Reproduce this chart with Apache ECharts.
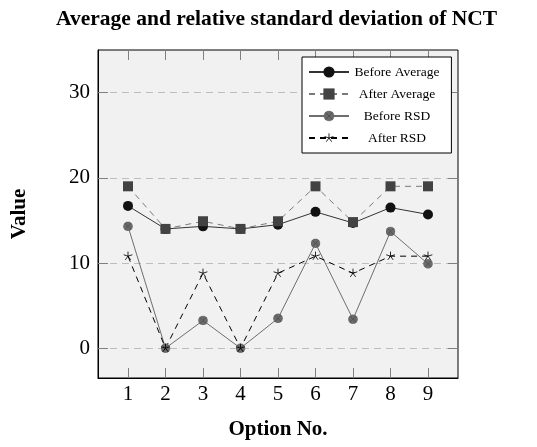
<!DOCTYPE html>
<html>
<head>
<meta charset="utf-8">
<script src="https://cdn.jsdelivr.net/npm/echarts@6/dist/echarts.min.js"></script>
<style>html,body{margin:0;padding:0;background:#fff;}#c{width:537px;height:447px;}</style>
</head>
<body>
<div id="c"></div>
<script>
const categories = [1, 2, 3, 4, 5, 6, 7, 8, 9];
const beforeAvg = [16.7, 14.0, 14.3, 14.0, 14.5, 16.0, 14.7, 16.5, 15.7];
const afterAvg = [19.0, 14.0, 14.9, 14.0, 14.9, 19.0, 14.8, 19.0, 19.0];
const beforeRSD = [14.3, 0, 3.25, 0, 3.5, 12.3, 3.4, 13.7, 9.9];
const afterRSD = [10.8, 0, 8.8, 0, 8.8, 10.8, 8.8, 10.8, 10.8];
const yTicks = [0, 10, 20, 30];
const seriesNames = ['Before Average', 'After Average', 'Before RSD', 'After RSD'];

const FONT = '"Liberation Serif", "DejaVu Serif", serif';
function pairs(vals) { return categories.map((c, i) => [c, vals[i]]); }

const crossCircle = 'image://data:image/svg+xml;utf8,' + encodeURIComponent(
  '<svg xmlns="http://www.w3.org/2000/svg" width="22" height="22" viewBox="0 0 22 22">' +
  '<circle cx="11" cy="11" r="10" fill="#6b6b6b" stroke="#5a5a5a" stroke-width="1"/>' +
  '<line x1="4" y1="4" x2="18" y2="18" stroke="#4a4a4a" stroke-width="1.6"/>' +
  '<line x1="18" y1="4" x2="4" y2="18" stroke="#4a4a4a" stroke-width="1.6"/></svg>');
const starSym = 'image://data:image/svg+xml;utf8,' + encodeURIComponent(
  '<svg xmlns="http://www.w3.org/2000/svg" width="24" height="24" viewBox="0 0 24 24">' +
  '<g stroke="#000" stroke-width="1.8" stroke-linecap="butt">' +
  '<line x1="12" y1="12" x2="12" y2="2"/>' +
  '<line x1="12" y1="12" x2="21.5" y2="8.9"/>' +
  '<line x1="12" y1="12" x2="2.5" y2="8.9"/>' +
  '<line x1="12" y1="12" x2="17.9" y2="20.1"/>' +
  '<line x1="12" y1="12" x2="6.1" y2="20.1"/></g></svg>');

const chart = echarts.init(document.getElementById('c'), null, {renderer: 'canvas'});
const tickStyle = {show: true, inside: true, length: 10, lineStyle: {color: '#808080', width: 1}};
const option = {
  backgroundColor: '#ffffff',
  animation: false,
  title: {
    text: 'Average and relative standard deviation of NCT',
    left: 56, top: 8, padding: 0,
    textStyle: {fontFamily: FONT, fontWeight: 'bold', fontSize: 21.5, color: '#000'}
  },
  grid: {
    left: 98, top: 50, width: 360, height: 328,
    show: true, backgroundColor: '#f1f1f1', borderColor: '#000', borderWidth: 1
  },
  legend: {
    orient: 'vertical', left: 302, top: 57,
    backgroundColor: '#ffffff', borderColor: '#000', borderWidth: 1, borderRadius: 0,
    padding: [8, 12, 8, 6], itemGap: 8, itemWidth: 40, itemHeight: 14,
    data: seriesNames,
    formatter: n => '{a|' + n + '}',
    textStyle: {fontFamily: FONT, fontSize: 13.5, color: '#000',
      rich: {a: {width: 86, align: 'center', fontFamily: FONT, fontSize: 13.5, color: '#000'}}}
  },
  xAxis: [{
    type: 'value', min: 0.2, max: 9.8, position: 'bottom',
    name: 'Option No.', nameLocation: 'middle', nameGap: 41,
    nameTextStyle: {fontFamily: FONT, fontWeight: 'bold', fontSize: 21, color: '#000'},
    axisLine: {show: true, onZero: false, lineStyle: {color: '#000'}},
    axisTick: Object.assign({customValues: categories}, tickStyle),
    axisLabel: {customValues: categories, fontFamily: FONT, fontSize: 21, color: '#000', margin: 6},
    splitLine: {show: false}
  }, {
    type: 'value', min: 0.2, max: 9.8, position: 'top',
    axisLine: {show: false, onZero: false},
    axisTick: Object.assign({customValues: categories}, tickStyle),
    axisLabel: {show: false}, splitLine: {show: false}
  }],
  yAxis: [{
    type: 'value', min: -3.5, max: 35, position: 'left',
    name: 'Value', nameLocation: 'middle', nameGap: 68,
    nameTextStyle: {fontFamily: FONT, fontWeight: 'bold', fontSize: 21, color: '#000'},
    axisLine: {show: true, onZero: false, lineStyle: {color: '#000'}},
    axisTick: Object.assign({customValues: yTicks}, tickStyle),
    axisLabel: {customValues: yTicks, fontFamily: FONT, fontSize: 21, color: '#000', margin: 8},
    splitLine: {show: true, lineStyle: {color: '#bdbdbd', type: [7, 5], width: 1}}
  }, {
    type: 'value', min: -3.5, max: 35, position: 'right',
    axisLine: {show: false, onZero: false},
    axisTick: Object.assign({customValues: yTicks}, tickStyle),
    axisLabel: {show: false}, splitLine: {show: false}
  }],
  series: [{
    name: seriesNames[0], type: 'line', data: pairs(beforeAvg),
    symbol: 'circle', symbolSize: 10,
    itemStyle: {color: '#111111'},
    lineStyle: {color: '#333333', width: 1, type: 'solid'}
  }, {
    name: seriesNames[1], type: 'line', data: pairs(afterAvg),
    symbol: 'rect', symbolSize: 10,
    itemStyle: {color: '#424242'},
    lineStyle: {color: '#7a7a7a', width: 1, type: [6, 5]}
  }, {
    name: seriesNames[2], type: 'line', data: pairs(beforeRSD),
    symbol: crossCircle, symbolSize: 10,
    itemStyle: {color: '#6b6b6b'},
    lineStyle: {color: '#6e6e6e', width: 1, type: 'solid'}
  }, {
    name: seriesNames[3], type: 'line', data: pairs(afterRSD),
    symbol: starSym, symbolSize: 11,
    itemStyle: {color: '#000000'},
    lineStyle: {color: '#000000', width: 1, type: [6, 5]}
  }]
};
chart.setOption(option);
</script>
</body>
</html>
